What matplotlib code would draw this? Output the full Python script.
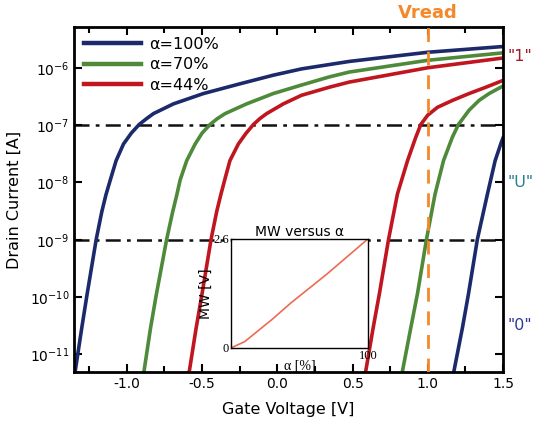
import numpy as np
import matplotlib
matplotlib.use("Agg")
import matplotlib.pyplot as plt
import matplotlib.transforms as mtransforms

# ---- data (gate voltage [V], log10 drain current [A]) ----
blue_fwd_v = [-1.342, -1.300, -1.265, -1.203, -1.166, -1.139, -1.110, -1.071, -1.022, -0.970, -0.918,
              -0.870, -0.823, -0.69, -0.491, -0.248, -0.027, 0.161, 0.478, 1.0, 1.5]
blue_fwd_l = [-11.28, -10.55, -9.97, -8.99, -8.51, -8.22, -7.96, -7.62, -7.33, -7.14, -6.99,
              -6.89, -6.80, -6.63, -6.45, -6.28, -6.13, -6.02, -5.89, -5.73, -5.63]
blue_rev_v = [1.174, 1.23, 1.27, 1.329, 1.396, 1.447, 1.488, 1.5]
blue_rev_l = [-11.28, -10.53, -9.94, -8.99, -8.20, -7.62, -7.30, -7.22]

green_fwd_v = [-0.885, -0.843, -0.805, -0.735, -0.695, -0.668, -0.646, -0.602, -0.546, -0.500, -0.447,
               -0.400, -0.347, -0.204, -0.027, 0.150, 0.345, 0.478, 1.0, 1.5]
green_fwd_l = [-11.28, -10.55, -9.97, -8.99, -8.51, -8.22, -7.96, -7.62, -7.33, -7.14, -6.99,
               -6.89, -6.80, -6.63, -6.45, -6.31, -6.16, -6.075, -5.87, -5.74]
green_rev_v = [0.832, 0.887, 0.931, 0.991, 1.048, 1.104, 1.163, 1.203, 1.274, 1.340, 1.407, 1.484, 1.5]
green_rev_l = [-11.28, -10.53, -9.94, -8.99, -8.20, -7.62, -7.21, -6.99, -6.74, -6.57, -6.45, -6.34, -6.32]

red_fwd_v = [-0.584, -0.540, -0.502, -0.440, -0.403, -0.376, -0.350, -0.315, -0.259, -0.210, -0.159,
             -0.115, -0.071, 0.040, 0.161, 0.345, 0.478, 1.0, 1.5]
red_fwd_l = [-11.28, -10.55, -9.97, -8.99, -8.51, -8.22, -7.96, -7.62, -7.33, -7.15, -6.99,
             -6.885, -6.80, -6.63, -6.48, -6.34, -6.25, -6.00, -5.83]
red_rev_v = [0.588, 0.637, 0.678, 0.739, 0.798, 0.865, 0.920, 0.953, 0.998, 1.064, 1.163, 1.274, 1.385, 1.5]
red_rev_l = [-11.28, -10.53, -9.94, -8.99, -8.20, -7.62, -7.21, -6.99, -6.83, -6.69, -6.57, -6.45, -6.34, -6.22]

labels = ["\u03b1=100%", "\u03b1=70%", "\u03b1=44%"]
colors = ["#1c2a6b", "#4e8a3a", "#c0161f"]

ref_levels = [1e-7, 1e-9]
vread = 1.0

state_text = ['"1"', '"U"', '"0"']
state_pos = [10**-5.81, 10**-8.01, 10**-10.49]
state_colors = ["#9e1b2a", "#2a7f90", "#2a3b9a"]

# inset data: memory window vs alpha
alpha_pct = [0, 10, 30, 44, 70, 100]
mw_v = [0.0, 0.15, 0.68, 1.08, 1.76, 2.6]

# ---- figure ----
fig = plt.figure(figsize=(5.41, 4.29), dpi=100)
ax = fig.add_axes([0.137, 0.133, 0.793, 0.804])

branches = [
    (blue_fwd_v, blue_fwd_l, blue_rev_v, blue_rev_l),
    (green_fwd_v, green_fwd_l, green_rev_v, green_rev_l),
    (red_fwd_v, red_fwd_l, red_rev_v, red_rev_l),
]
for (fv, fl, rv, rl), c, lab in zip(branches, colors, labels):
    ax.plot(fv, 10**np.array(fl), color=c, lw=2.6, label=lab, solid_joinstyle='round')
    ax.plot(rv, 10**np.array(rl), color=c, lw=2.6, solid_joinstyle='round')

for lv in ref_levels:
    ax.axhline(lv, color="#111111", lw=1.8, ls=(0, (6, 2.5, 1.5, 2.5)), zorder=1)
ax.axvline(vread, color="#f5892a", lw=2.0, ls=(0, (5, 3.5)), zorder=3)

ax.set_yscale("log")
ax.set_xlim(-1.35, 1.5)
ax.set_ylim(10**-11.305, 10**-5.29)
ax.set_xticks([-1.0, -0.5, 0.0, 0.5, 1.0, 1.5])
ax.set_xticklabels(["-1.0", "-0.5", "0.0", "0.5", "1.0", "1.5"])
ax.set_xticks(np.arange(-1.25, 1.5, 0.5), minor=True)
ax.set_yticks([1e-11, 1e-10, 1e-9, 1e-8, 1e-7, 1e-6])
ax.yaxis.set_minor_locator(matplotlib.ticker.NullLocator())
ax.tick_params(which="both", direction="in", top=True, right=True, width=1.5, labelsize=10)
ax.tick_params(which="major", length=6)
ax.tick_params(which="minor", length=4)
for s in ax.spines.values():
    s.set_linewidth(2.0)

ax.set_xlabel("Gate Voltage [V]", fontsize=11.5, labelpad=8)
ax.set_ylabel("Drain Current [A]", fontsize=11.5, labelpad=6)

leg = ax.legend(loc="upper left", frameon=False, fontsize=11.5, handlelength=3.6,
                borderaxespad=0.2, labelspacing=0.35, handletextpad=0.5)
for h in leg.get_lines():
    h.set_linewidth(3.2)

blend = mtransforms.blended_transform_factory(ax.transAxes, ax.transData)
for t, y, c in zip(state_text, state_pos, state_colors):
    ax.text(1.01, y, t, transform=blend, color=c, fontsize=11.5, ha="left", va="center")

blend2 = mtransforms.blended_transform_factory(ax.transData, ax.transAxes)
ax.text(vread, 1.015, "Vread", transform=blend2, color="#f5892a", fontsize=13,
        fontweight="bold", ha="center", va="bottom")

# ---- inset ----
ins = fig.add_axes([0.427, 0.189, 0.253, 0.254])
ins.plot(alpha_pct, mw_v, color="#ee6a55", lw=1.2)
ins.set_xlim(0, 100)
ins.set_ylim(0, 2.6)
ins.set_xticks([0, 100])
ins.set_xticklabels(["", "100"], family="Liberation Serif", fontsize=9)
ins.set_yticks([0, 2.6])
ins.set_yticklabels(["0", "2.6"], family="Liberation Serif", fontsize=9)
ins.tick_params(direction="in", length=2, width=0.8, pad=1.5)
ins.set_xlabel("\u03b1 [%]", family="Liberation Serif", fontsize=10, labelpad=-2)
ins.set_ylabel("MW [V]", fontsize=10, labelpad=0)
ins.set_title("MW versus \u03b1", fontsize=10, pad=2)
for s in ins.spines.values():
    s.set_linewidth(1.0)

fig.savefig("out.png", dpi=100)
